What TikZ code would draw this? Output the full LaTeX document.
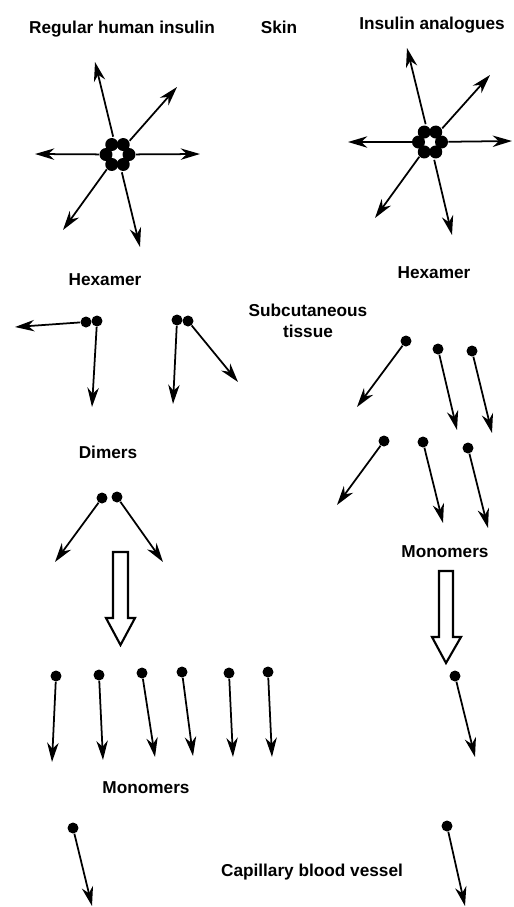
\documentclass[tikz,border=0pt]{standalone}
\usepackage{fontspec}
\setmainfont{Liberation Sans}
\usetikzlibrary{arrows.meta}

\begin{document}
\begin{tikzpicture}[x=0.02cm,y=-0.02cm,
  lbl/.style={font=\bfseries\fontsize{9.8}{11.9}\selectfont,inner sep=0pt,anchor=base},
  dot/.style={circle,fill=black,inner sep=0pt,minimum size=0.22cm},
  hex/.style={circle,inner sep=0pt,minimum size=0.72cm},
  arr/.style={line width=1pt,-{Stealth[length=11pt,width=6.5pt,inset=3.5pt]}},
  hollow/.style={line width=1.2pt,fill=white,line join=miter}]
\useasboundingbox (0,0) rectangle (514,907);

% ------------------------------------------------ labels
\node[lbl] (regular) at (122,33) {Regular human insulin};
\node[lbl] (skin)    at (279,33) {Skin};
\node[lbl] (analog)  at (432,29) {Insulin analogues};
\node[lbl] (hexlabL) at (105,285) {Hexamer};
\node[lbl] (hexlabR) at (434,278) {Hexamer};
\node[lbl,align=center,anchor=center] (subcut) at (308,321) {Subcutaneous\\tissue};
\node[lbl] (dimlab)  at (108,458) {Dimers};
\node[lbl] (monlabR) at (445,557) {Monomers};
\node[lbl] (monlabL) at (146,793) {Monomers};
\node[lbl] (capil)   at (312,876) {Capillary blood vessel};

% ------------------------------------------------ hexamers (skin)
\node[hex] (hexL) at (117.5,154.5) {};
\node[hex] (hexR) at (430,142) {};
\foreach \a in {0,60,...,300} {
  \fill ([shift={(\a:11.5)}]hexL.center) circle (0.13cm);
  \fill ([shift={(\a:11.5)}]hexR.center) circle (0.13cm);
}
\coordinate (hLa) at (95,62);   \coordinate (hLb) at (177,87);  \coordinate (hLc) at (200,154);
\coordinate (hLd) at (35,154);  \coordinate (hLe) at (63,230);  \coordinate (hLf) at (140,247);
\coordinate (hRa) at (407,48);  \coordinate (hRb) at (490,75);  \coordinate (hRc) at (512,141);
\coordinate (hRd) at (348,142); \coordinate (hRe) at (375,218); \coordinate (hRf) at (452,235);
\foreach \n in {a,b,c,d,e,f} {
  \draw[arr] (hexL) -- (hL\n);
  \draw[arr] (hexR) -- (hR\n);
}

% ------------------------------------------------ dimers (left)
\node[dot] (d1a) at (86,322) {};  \node[dot] (d1b) at (97,321) {};
\node[dot] (d2a) at (177,320) {}; \node[dot] (d2b) at (188,321) {};
\node[dot] (d3a) at (102,498) {}; \node[dot] (d3b) at (117,497) {};
\coordinate (t1a) at (15,327);  \coordinate (t1b) at (92,407);
\coordinate (t2a) at (173,404); \coordinate (t2b) at (238,382);
\coordinate (t3a) at (55,562);  \coordinate (t3b) at (163,562);
\draw[arr] (d1a) -- (t1a); \draw[arr] (d1b) -- (t1b);
\draw[arr] (d2a) -- (t2a); \draw[arr] (d2b) -- (t2b);
\draw[arr] (d3a) -- (t3a); \draw[arr] (d3b) -- (t3b);

% ------------------------------------------------ monomers (right)
\foreach \n/\x/\y/\tx/\ty in {a/406/341/357/407, b/438/349/457/430, c/472/351/492/433,
                              d/384/441/337/505, e/423/442/443/523, f/468/448/488/528,
                              g/455/676/475/757, h/447/826/465/906} {
  \node[dot] (mR\n) at (\x,\y) {};
  \coordinate (tR\n) at (\tx,\ty);
  \draw[arr] (mR\n) -- (tR\n);
}

% ------------------------------------------------ monomers (left)
\foreach \n/\x/\y/\tx/\ty in {a/56/676/52/762, b/99/675/103/760, c/142/673/155/757,
                              d/182/672/193/756, e/229/673/233/757, f/268/672/272/757,
                              g/73/828/92/906} {
  \node[dot] (mL\n) at (\x,\y) {};
  \coordinate (tL\n) at (\tx,\ty);
  \draw[arr] (mL\n) -- (tL\n);
}

% ------------------------------------------------ hollow arrows
\draw[hollow] (113,552) -- (128,552) -- (128,618) -- (135,618) -- (120.5,645) -- (106,618) -- (113,618) -- cycle;
\draw[hollow] (439,571) -- (453,571) -- (453,637) -- (461,637) -- (446,663) -- (432,637) -- (439,637) -- cycle;

\end{tikzpicture}
\end{document}
